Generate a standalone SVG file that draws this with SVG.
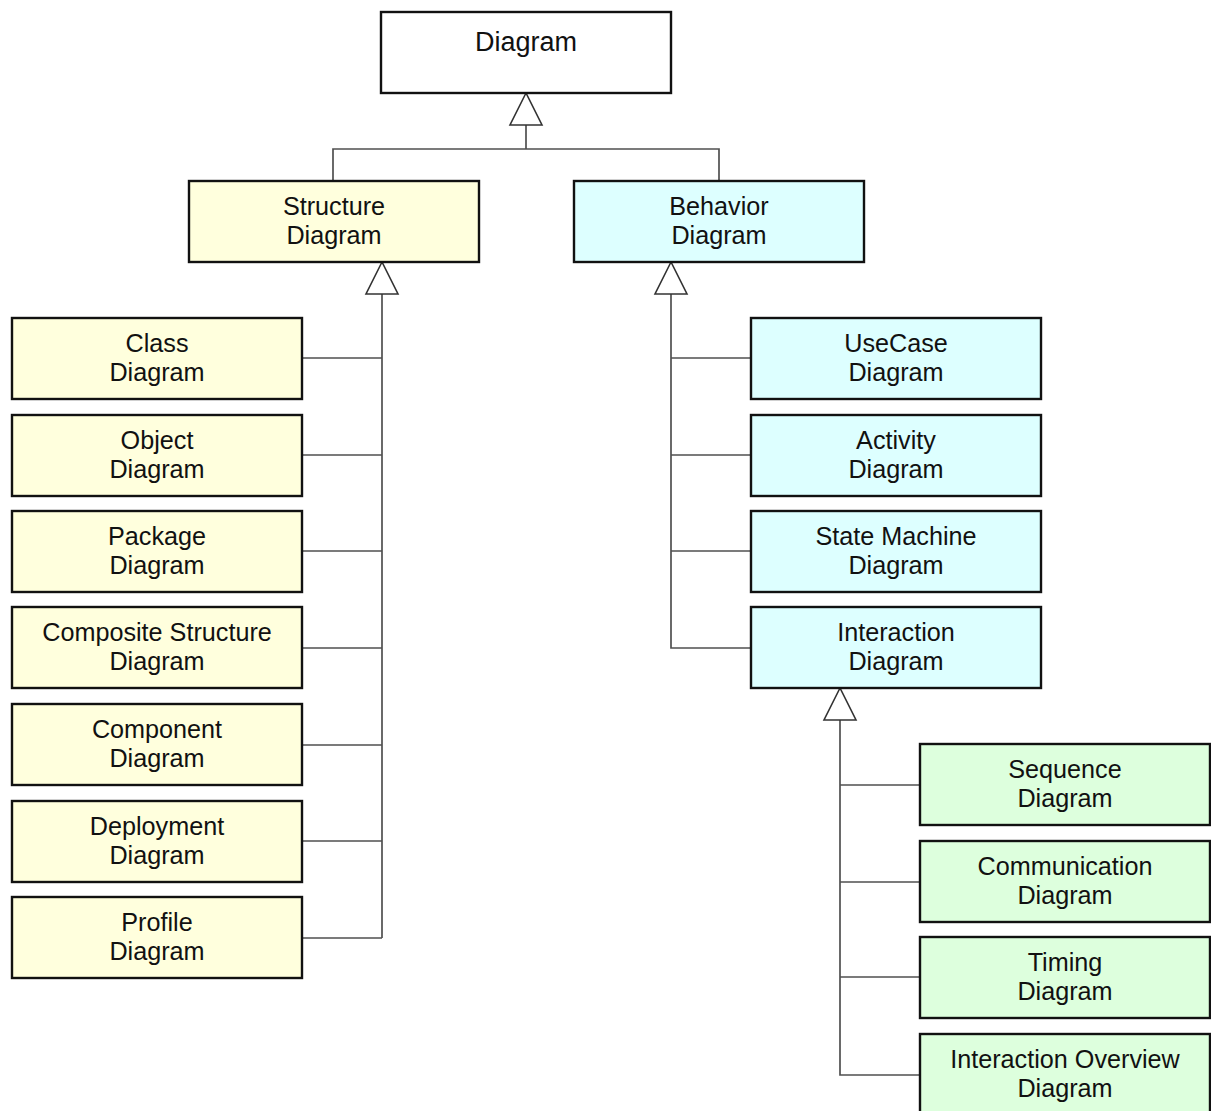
<svg xmlns="http://www.w3.org/2000/svg" width="1211" height="1111" viewBox="0 0 1211 1111">
  <style>
    .box { stroke: #111; stroke-width: 2.4; }
    .root { fill: #ffffff; }
    .struct { fill: #ffffdd; }
    .behav { fill: #ddffff; }
    .inter { fill: #ddffdd; }
    .lbl { font-family: "Liberation Sans", Arial, sans-serif; font-size: 25.2px; fill: #111; text-anchor: middle; }
    .title { font-size: 27px; }
    .wire { fill: none; stroke: #505050; stroke-width: 1.7; }
    .head { fill: #ffffff; stroke: #333; stroke-width: 1.6; }
  </style>

  <!-- generalization connectors -->
  <g id="connectors">
    <!-- Diagram <- Structure / Behavior -->
    <path class="wire" d="M526 125 V149 M333 181 V149 H719 V181"/>
    <polygon class="head" points="526,93 510,125 542,125"/>
    <!-- Structure Diagram children -->
    <path class="wire" d="M382 294 V938 M302 358 H382 M302 455 H382 M302 551 H382 M302 648 H382 M302 745 H382 M302 841 H382 M302 938 H382"/>
    <polygon class="head" points="382,262 366,294 398,294"/>
    <!-- Behavior Diagram children -->
    <path class="wire" d="M671 294 V648 H751 M671 358 H751 M671 455 H751 M671 551 H751"/>
    <polygon class="head" points="671,262 655,294 687,294"/>
    <!-- Interaction Diagram children -->
    <path class="wire" d="M840 720 V1075 H920 M840 785 H920 M840 882 H920 M840 977 H920"/>
    <polygon class="head" points="840,688 824,720 856,720"/>
  </g>

  <g id="diagram">
    <rect class="box root" x="381" y="12" width="290" height="81"/>
    <text class="lbl title" x="526" y="51">Diagram</text>
  </g>

  <g id="structure-diagram">
    <rect class="box struct" x="189" y="181" width="290" height="81"/>
    <text class="lbl" x="334" y="215">Structure</text>
    <text class="lbl" x="334" y="244">Diagram</text>
  </g>
  <g id="behavior-diagram">
    <rect class="box behav" x="574" y="181" width="290" height="81"/>
    <text class="lbl" x="719" y="215">Behavior</text>
    <text class="lbl" x="719" y="244">Diagram</text>
  </g>

  <!-- structure diagrams -->
  <g id="class-diagram">
    <rect class="box struct" x="12" y="318" width="290" height="81"/>
    <text class="lbl" x="157" y="352">Class</text>
    <text class="lbl" x="157" y="381">Diagram</text>
  </g>
  <g id="object-diagram">
    <rect class="box struct" x="12" y="415" width="290" height="81"/>
    <text class="lbl" x="157" y="449">Object</text>
    <text class="lbl" x="157" y="478">Diagram</text>
  </g>
  <g id="package-diagram">
    <rect class="box struct" x="12" y="511" width="290" height="81"/>
    <text class="lbl" x="157" y="545">Package</text>
    <text class="lbl" x="157" y="574">Diagram</text>
  </g>
  <g id="composite-structure-diagram">
    <rect class="box struct" x="12" y="607" width="290" height="81"/>
    <text class="lbl" x="157" y="641">Composite Structure</text>
    <text class="lbl" x="157" y="670">Diagram</text>
  </g>
  <g id="component-diagram">
    <rect class="box struct" x="12" y="704" width="290" height="81"/>
    <text class="lbl" x="157" y="738">Component</text>
    <text class="lbl" x="157" y="767">Diagram</text>
  </g>
  <g id="deployment-diagram">
    <rect class="box struct" x="12" y="801" width="290" height="81"/>
    <text class="lbl" x="157" y="835">Deployment</text>
    <text class="lbl" x="157" y="864">Diagram</text>
  </g>
  <g id="profile-diagram">
    <rect class="box struct" x="12" y="897" width="290" height="81"/>
    <text class="lbl" x="157" y="931">Profile</text>
    <text class="lbl" x="157" y="960">Diagram</text>
  </g>

  <!-- behavior diagrams -->
  <g id="usecase-diagram">
    <rect class="box behav" x="751" y="318" width="290" height="81"/>
    <text class="lbl" x="896" y="352">UseCase</text>
    <text class="lbl" x="896" y="381">Diagram</text>
  </g>
  <g id="activity-diagram">
    <rect class="box behav" x="751" y="415" width="290" height="81"/>
    <text class="lbl" x="896" y="449">Activity</text>
    <text class="lbl" x="896" y="478">Diagram</text>
  </g>
  <g id="state-machine-diagram">
    <rect class="box behav" x="751" y="511" width="290" height="81"/>
    <text class="lbl" x="896" y="545">State Machine</text>
    <text class="lbl" x="896" y="574">Diagram</text>
  </g>
  <g id="interaction-diagram">
    <rect class="box behav" x="751" y="607" width="290" height="81"/>
    <text class="lbl" x="896" y="641">Interaction</text>
    <text class="lbl" x="896" y="670">Diagram</text>
  </g>

  <!-- interaction diagrams -->
  <g id="sequence-diagram">
    <rect class="box inter" x="920" y="744" width="290" height="81"/>
    <text class="lbl" x="1065" y="778">Sequence</text>
    <text class="lbl" x="1065" y="807">Diagram</text>
  </g>
  <g id="communication-diagram">
    <rect class="box inter" x="920" y="841" width="290" height="81"/>
    <text class="lbl" x="1065" y="875">Communication</text>
    <text class="lbl" x="1065" y="904">Diagram</text>
  </g>
  <g id="timing-diagram">
    <rect class="box inter" x="920" y="937" width="290" height="81"/>
    <text class="lbl" x="1065" y="971">Timing</text>
    <text class="lbl" x="1065" y="1000">Diagram</text>
  </g>
  <g id="interaction-overview-diagram">
    <rect class="box inter" x="920" y="1034" width="290" height="81"/>
    <text class="lbl" x="1065" y="1068">Interaction Overview</text>
    <text class="lbl" x="1065" y="1097">Diagram</text>
  </g>
</svg>
